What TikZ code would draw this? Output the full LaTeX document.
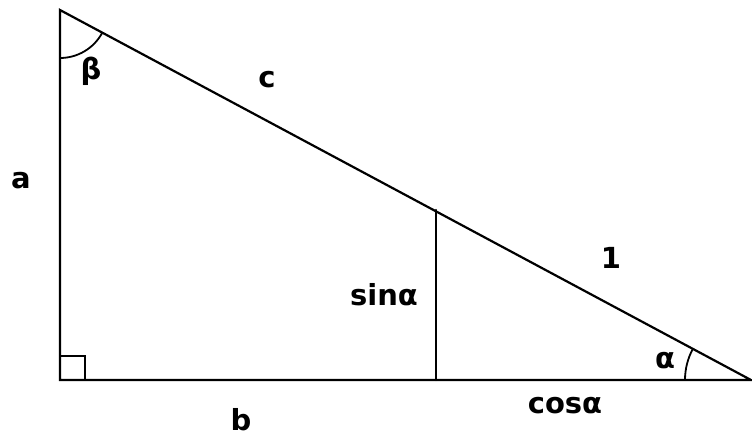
\documentclass[tikz,border=0pt]{standalone}
\usepackage{fontspec}
\setmainfont{DejaVu Sans}
\begin{document}
\begin{tikzpicture}[x=1pt,y=-1pt,
  edge/.style={line width=2.2pt,line cap=round,line join=miter},
  thin/.style={line width=1.8pt},
  lbl/.style={inner sep=0pt,anchor=base,font=\fontsize{29}{32}\selectfont\bfseries}]
\useasboundingbox (0,0) rectangle (752,436);
\coordinate (A) at (60,10);
\coordinate (C) at (60,380);
\coordinate (B) at (751,380);
\coordinate (P) at (436,210);
\coordinate (Q) at (436,380);
\draw[edge] (A) -- (C) -- (B) -- cycle;
\draw[edge] (P) -- (Q);
% right angle
\draw[thin] (60,356) -- (85,356) -- (85,380);
% beta arc
\draw[thin] (A) ++(90:48) arc[start angle=90,end angle=28.3,radius=48];
% alpha arc
\draw[thin] (B) ++(180:66) arc[start angle=180,end angle=208.3,radius=66];
\node[lbl] (la) at (21,188) {a};
\node[lbl,anchor=center] (lbeta) at (91,71) {β};
\node[lbl] (lc) at (267,88) {c};
\node[lbl] (l1) at (611,268) {1};
\node[lbl] (lsin) at (384,305) {sinα};
\node[lbl] (lal) at (665,368) {α};
\node[lbl] (lcos) at (565,413) {cosα};
\node[lbl] (lb) at (241,430) {b};
\end{tikzpicture}
\end{document}
